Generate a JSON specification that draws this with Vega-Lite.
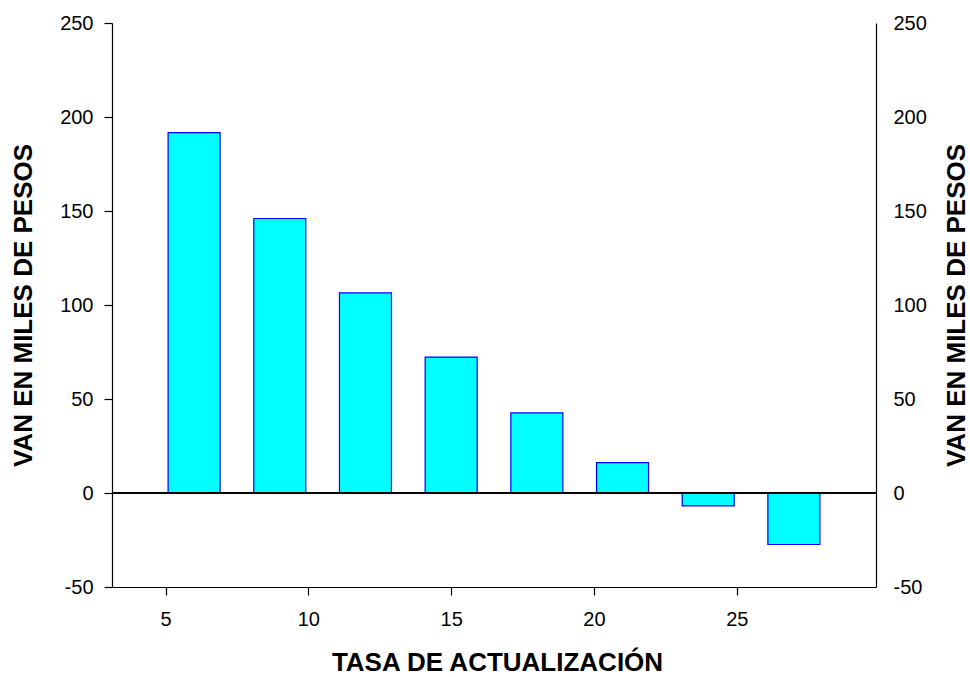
{
  "$schema": "https://vega.github.io/schema/vega-lite/v6.json",
  "width": 764,
  "height": 564,
  "autosize": {"type": "none"},
  "padding": {"left": 112, "top": 23, "right": 94, "bottom": 90},
  "background": "white",
  "config": {
    "view": {"stroke": null},
    "font": "Liberation Sans",
    "axis": {
      "grid": false,
      "domainColor": "black",
      "domainWidth": 1.2,
      "tickColor": "black",
      "tickWidth": 1.2,
      "labelColor": "black",
      "labelFont": "Liberation Sans",
      "labelFontSize": 20,
      "titleFont": "Liberation Sans",
      "titleFontSize": 26,
      "titleFontWeight": "bold",
      "titleColor": "black"
    }
  },
  "data": {
    "values": [
      {"tasa": 6, "van": 191.7},
      {"tasa": 9, "van": 146.0},
      {"tasa": 12, "van": 106.4},
      {"tasa": 15, "van": 72.3},
      {"tasa": 18, "van": 42.6},
      {"tasa": 21, "van": 16.2},
      {"tasa": 24, "van": -6.9},
      {"tasa": 27, "van": -27.4}
    ]
  },
  "layer": [
    {
      "mark": {"type": "bar", "width": 52, "fill": "#00FFFF", "stroke": "#0000FF", "strokeWidth": 1.2},
      "encoding": {
        "x": {
          "field": "tasa",
          "type": "quantitative",
          "scale": {"domain": [3.3, 29.7], "nice": false, "zero": false},
          "axis": {
            "values": [5, 10, 15, 20, 25],
            "tickSize": 8,
            "labelPadding": 14,
            "title": "TASA DE ACTUALIZACIÓN",
            "titleX": 385,
            "titleY": 75,
            "titleAlign": "center",
            "titleBaseline": "middle"
          }
        },
        "y": {
          "field": "van",
          "type": "quantitative",
          "scale": {"domain": [-50, 250], "nice": false},
          "axis": {
            "orient": "left",
            "values": [-50, 0, 50, 100, 150, 200, 250],
            "labelExpr": "replace(datum.label, '\u2212', '-')",
            "tickSize": 8,
            "labelPadding": 11,
            "title": "VAN EN MILES DE PESOS",
            "titleAngle": 270,
            "titleX": -89,
            "titleY": 282,
            "titleAlign": "center",
            "titleBaseline": "middle"
          }
        }
      }
    },
    {
      "mark": {"type": "rule", "color": "black", "strokeWidth": 1.2},
      "encoding": {
        "y": {
          "datum": 0,
          "type": "quantitative",
          "scale": {"domain": [-50, 250], "nice": false},
          "axis": {
            "orient": "right",
            "values": [-50, 0, 50, 100, 150, 200, 250],
            "labelExpr": "replace(datum.label, '\u2212', '-')",
            "ticks": false,
            "tickSize": 0,
            "labelPadding": 17,
            "labelAlign": "left",
            "title": "VAN EN MILES DE PESOS",
            "titleAngle": 270,
            "titleX": 80.5,
            "titleY": 282,
            "titleAlign": "center",
            "titleBaseline": "middle"
          }
        }
      }
    }
  ],
  "resolve": {"scale": {"y": "independent"}, "axis": {"y": "independent"}}
}
